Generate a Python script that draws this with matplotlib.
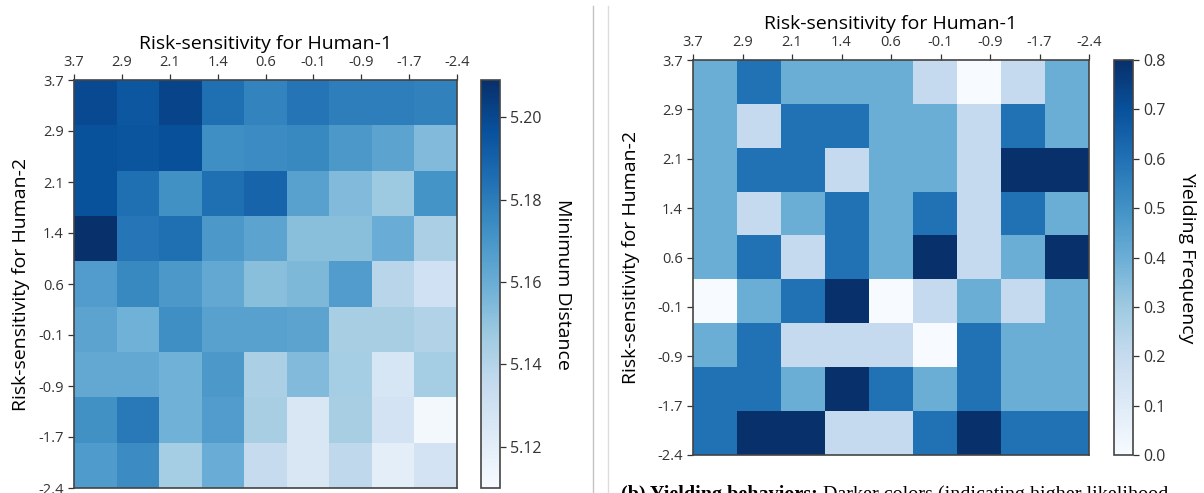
import numpy as np
import matplotlib
matplotlib.use('Agg')
import matplotlib.pyplot as plt
from matplotlib.lines import Line2D

plt.rcParams['font.family'] = ['Open Sans', 'DejaVu Sans']

# tick labels shared by both panels (risk-sensitivity values)
risk_labels = ['3.7', '2.9', '2.1', '1.4', '0.6', '-0.1', '-0.9', '-1.7', '-2.4']

# left panel: minimum distance, rows = Human-2 (top 3.7), cols = Human-1
min_dist = np.array([
    [5.199, 5.194, 5.201, 5.185, 5.177, 5.183, 5.179, 5.179, 5.178],
    [5.196, 5.195, 5.197, 5.173, 5.174, 5.175, 5.169, 5.164, 5.154],
    [5.196, 5.185, 5.172, 5.185, 5.189, 5.165, 5.154, 5.147, 5.171],
    [5.209, 5.182, 5.185, 5.169, 5.164, 5.152, 5.152, 5.160, 5.143],
    [5.167, 5.175, 5.169, 5.162, 5.152, 5.155, 5.167, 5.139, 5.130],
    [5.164, 5.158, 5.173, 5.165, 5.165, 5.164, 5.144, 5.144, 5.141],
    [5.162, 5.162, 5.158, 5.169, 5.143, 5.154, 5.145, 5.126, 5.145],
    [5.172, 5.181, 5.158, 5.167, 5.144, 5.125, 5.144, 5.128, 5.112],
    [5.168, 5.174, 5.145, 5.160, 5.134, 5.125, 5.137, 5.120, 5.128],
])
dist_ticks = [5.12, 5.14, 5.16, 5.18, 5.20]

# right panel: yielding frequency
yield_freq = np.array([
    [0.4, 0.6, 0.4, 0.4, 0.4, 0.2, 0.0, 0.2, 0.4],
    [0.4, 0.2, 0.6, 0.6, 0.4, 0.4, 0.2, 0.6, 0.4],
    [0.4, 0.6, 0.6, 0.2, 0.4, 0.4, 0.2, 0.8, 0.8],
    [0.4, 0.2, 0.4, 0.6, 0.4, 0.6, 0.2, 0.6, 0.4],
    [0.4, 0.6, 0.2, 0.6, 0.4, 0.8, 0.2, 0.4, 0.8],
    [0.0, 0.4, 0.6, 0.8, 0.0, 0.2, 0.4, 0.2, 0.4],
    [0.4, 0.6, 0.2, 0.2, 0.2, 0.0, 0.6, 0.4, 0.4],
    [0.6, 0.6, 0.4, 0.8, 0.6, 0.4, 0.6, 0.4, 0.4],
    [0.6, 0.8, 0.8, 0.2, 0.2, 0.6, 0.8, 0.6, 0.6],
])
freq_ticks = [0.0, 0.1, 0.2, 0.3, 0.4, 0.5, 0.6, 0.7, 0.8]

W, H = 1204, 493
fig = plt.figure(figsize=(W / 100, H / 100), dpi=100)


def px_rect(x0, y0, x1, y1):
    # pixel box (top-left origin) -> figure fraction rect
    return [x0 / W, 1 - y1 / H, (x1 - x0) / W, (y1 - y0) / H]


def heat_panel(ax, cax, data, vmin, vmax, cticks, cfmt, clabel, ypad):
    im = ax.imshow(data, cmap='Blues', vmin=vmin, vmax=vmax,
                   extent=(0, 1, 1, 0), aspect='auto', interpolation='nearest')
    pos = np.linspace(0, 1, len(risk_labels))
    ax.set_xticks(pos)
    ax.set_xticklabels(risk_labels)
    ax.set_yticks(pos)
    ax.set_yticklabels(risk_labels)
    ax.xaxis.tick_top()
    ax.xaxis.set_label_position('top')
    ax.tick_params(axis='both', labelsize=10.5, colors='#333333', length=4, width=0.9)
    ax.set_xlabel('Risk-sensitivity for Human-1', fontsize=14, labelpad=4)
    ax.set_ylabel('Risk-sensitivity for Human-2', fontsize=14, labelpad=ypad)
    for sp in ax.spines.values():
        sp.set_color('#444444')
        sp.set_linewidth(1.2)
    cb = fig.colorbar(im, cax=cax, ticks=cticks, format=cfmt)
    cb.ax.tick_params(labelsize=11.5, colors='#333333', length=4, width=0.9)
    cb.outline.set_edgecolor('#444444')
    cb.outline.set_linewidth(1.2)
    cb.set_label(clabel, rotation=270, fontsize=14, labelpad=22)
    return im


ax_l = fig.add_axes(px_rect(74, 80, 457, 488))
cax_l = fig.add_axes(px_rect(481, 80, 500, 488))
heat_panel(ax_l, cax_l, min_dist, 5.110, 5.209, dist_ticks, '%.2f', 'Minimum Distance', 6)

ax_r = fig.add_axes(px_rect(693, 60, 1089, 455))
cax_r = fig.add_axes(px_rect(1114, 60, 1133, 455))
heat_panel(ax_r, cax_r, yield_freq, 0.0, 0.8, freq_ticks, '%.1f', 'Yielding Frequency', 12)

# separators between the two sub-figures
fig.add_artist(Line2D([593 / W] * 2, [0, 1 - 6 / H], transform=fig.transFigure,
                      color='#c4c4c4', lw=1))
fig.add_artist(Line2D([608 / W] * 2, [0, 1 - 6 / H], transform=fig.transFigure,
                      color='#dcdcdc', lw=1))

# caption, cut off by the bottom edge
cap = fig.text(621 / W, 1 - 485 / H, '(b) Yielding behaviors:', fontsize=14.5,
               fontweight='bold', family='Liberation Serif', va='top', ha='left')
ax_r.annotate(' Darker colors (indicating higher likelihood',
              xy=(1, 0), xycoords=cap, va='bottom', ha='left', fontsize=14.5,
              family='Liberation Serif', annotation_clip=False)

fig.savefig('out.png', dpi=100)
plt.close(fig)
